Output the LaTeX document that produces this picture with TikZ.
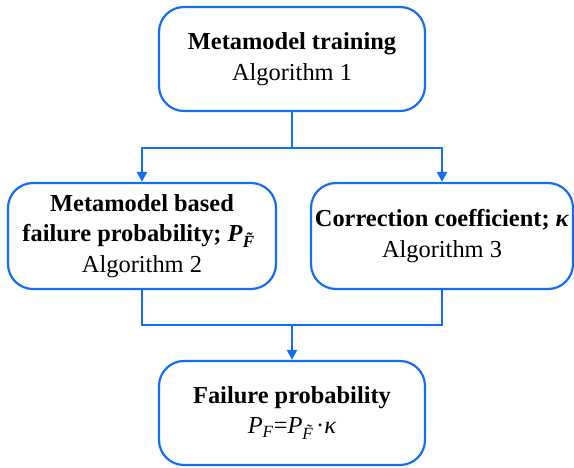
\documentclass[tikz,border=0pt]{standalone}
\usepackage{amsmath, amssymb}
\usepackage{fontspec}
\setmainfont{Liberation Serif}
\usepackage{tikz}
\usetikzlibrary{arrows.meta, positioning}
\definecolor{primary}{RGB}{20, 110, 245}

\newcommand{\Pt}{\textit{P}\textsubscript{\textit{\~{F}}}}

\begin{document}
\begin{tikzpicture}[
  x=1bp, y=-1bp,
  every node/.style={font=\fontsize{24.5}{30.5}\selectfont},
  box/.style={rectangle, rounded corners=25bp, draw=primary, line width=2.2bp,
              minimum width=266bp, minimum height=104bp, align=center, text=black,
              inner sep=0pt},
  line/.style={line width=2.2bp, color=primary},
  arr/.style={line, -{Triangle[length=10bp, width=10bp]}}
]
\useasboundingbox (0,0) rectangle (574,468);

\node[box] (train) at (292,59)  {\textbf{Metamodel training}\\Algorithm 1};
\node[box, minimum width=268bp, minimum height=106bp] (mbfp) at (142,236)
  {\textbf{Metamodel based}\\\textbf{failure probability; \Pt}\\Algorithm 2};
\node[box, minimum width=262bp, minimum height=106bp] (corr) at (442,236)
  {\textbf{Correction coefficient; \textit{κ}}\\Algorithm 3};
\node[box] (fail) at (292,413)
  {\textbf{Failure probability}\\\textit{P}\textsubscript{\textit{F}}=\Pt\kern-4bp·\textit{κ}};

\coordinate (split) at (292,148);
\coordinate (join)  at (292,325);

\draw[line] (train) -- (split);
\draw[arr]  (split) -| (mbfp);
\draw[arr]  (split) -| (corr);
\draw[line] (mbfp)  |- (join);
\draw[line] (corr)  |- (join);
\draw[arr]  (join)  -- (fail);

\end{tikzpicture}
\end{document}
